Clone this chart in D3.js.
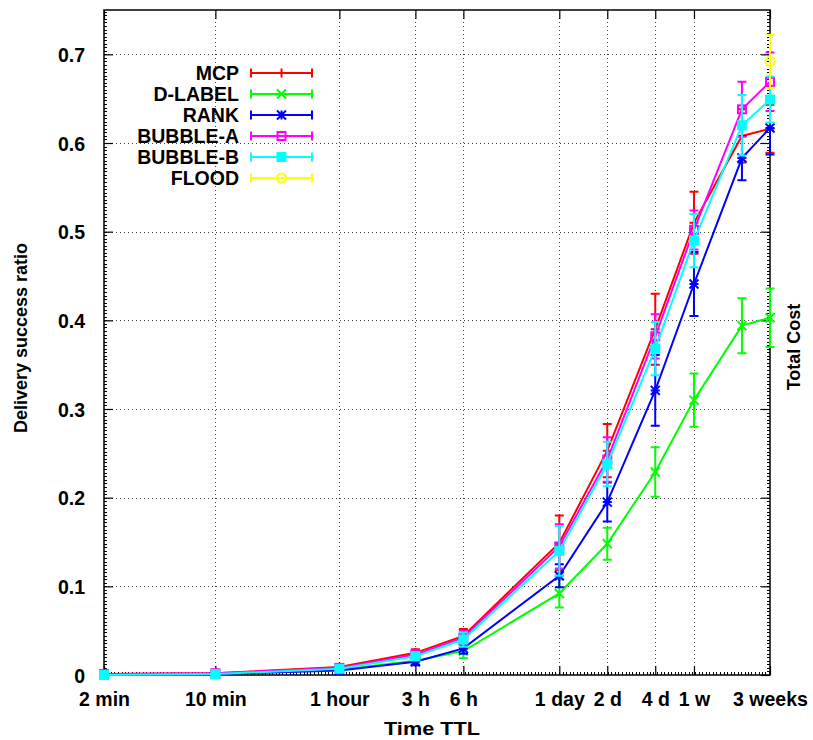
<!DOCTYPE html>
<html><head><meta charset="utf-8">
<script src="https://cdn.jsdelivr.net/npm/d3@7"></script>
<style>body{margin:0;background:#fff}svg{display:block}text{font-family:"Liberation Sans",Arial,sans-serif;font-weight:bold;fill:#000}</style>
</head><body><svg id="c" width="813" height="740"></svg>
<script>
// TTL in seconds
const ttlSeconds = [120, 600, 3600, 10800, 21600, 86400, 172800, 345600, 604800, 1209600, 1814400];
const tickValues = [120, 600, 3600, 10800, 21600, 86400, 172800, 345600, 604800, 1814400];
const tickLabels = ["2 min", "10 min", "1 hour", "3 h", "6 h", "1 day", "2 d", "4 d", "1 w", "3 weeks"];
const yTicks = [0, 0.1, 0.2, 0.3, 0.4, 0.5, 0.6, 0.7];

const seriesNames = ["MCP", "D-LABEL", "RANK", "BUBBLE-A", "BUBBLE-B", "FLOOD"];
const colors = ["#ff0000", "#00ff00", "#0000ff", "#ff00ff", "#00ffff", "#ffff00"];
const markers = ["plus", "cross", "star", "square", "fsquare", "circle"];

const mcpValues     = [0.001, 0.002, 0.009, 0.025, 0.044, 0.149, 0.253, 0.390, 0.510, 0.608, 0.616];
const mcpErr        = [0.001, 0.001, 0.002, 0.004, 0.008, 0.031, 0.030, 0.040, 0.035, 0.030, 0.027];
const dlabelValues  = [0.000, 0.001, 0.006, 0.016, 0.027, 0.092, 0.148, 0.229, 0.310, 0.394, 0.403];
const dlabelErr     = [0.000, 0.001, 0.002, 0.003, 0.008, 0.016, 0.018, 0.028, 0.030, 0.031, 0.033];
const rankValues    = [0.000, 0.001, 0.005, 0.015, 0.030, 0.112, 0.195, 0.321, 0.441, 0.583, 0.617];
const rankErr       = [0.000, 0.001, 0.002, 0.004, 0.006, 0.013, 0.022, 0.040, 0.036, 0.025, 0.030];
const bubbleAValues = [0.001, 0.002, 0.008, 0.023, 0.042, 0.145, 0.243, 0.382, 0.502, 0.638, 0.669];
const bubbleAErr    = [0.001, 0.001, 0.002, 0.005, 0.008, 0.025, 0.025, 0.025, 0.022, 0.031, 0.033];
const bubbleBValues = [0.000, 0.001, 0.007, 0.021, 0.040, 0.140, 0.238, 0.368, 0.490, 0.620, 0.649];
const bubbleBErr    = [0.000, 0.001, 0.002, 0.004, 0.008, 0.028, 0.025, 0.030, 0.030, 0.034, 0.026];
const floodValues   = [null, null, null, null, null, null, null, null, null, null, 0.692];
const floodErr      = [null, null, null, null, null, null, null, null, null, null, 0.030];

const allValues = [mcpValues, dlabelValues, rankValues, bubbleAValues, bubbleBValues, floodValues];
const allErr = [mcpErr, dlabelErr, rankErr, bubbleAErr, bubbleBErr, floodErr];

const L = 104, R = 770, T = 10, B = 675;
const svg = d3.select("#c");
const x = d3.scaleLog().domain([120, 1814400]).range([L, R]);
const y = d3.scaleLinear().domain([0, 0.75]).range([B, T]);

// grid
const grid = svg.append("g").attr("stroke", "#444").attr("stroke-width", 1).attr("stroke-dasharray", "1,3");
grid.selectAll("line.gx").data(tickValues.slice(1, -1)).join("line")
  .attr("x1", d => Math.round(x(d)) + 0.5).attr("x2", d => Math.round(x(d)) + 0.5).attr("y1", T).attr("y2", B);
grid.selectAll("line.gy").data(yTicks.slice(1)).join("line")
  .attr("y1", d => Math.round(y(d)) + 0.5).attr("y2", d => Math.round(y(d)) + 0.5).attr("x1", L).attr("x2", R);

// minor ticks
const minor = svg.append("g").attr("stroke", "#000").attr("stroke-width", 1);
const yMinor = d3.range(0, 0.75, 0.004);
minor.selectAll("line.ml").data(yMinor).join("line")
  .attr("x1", L).attr("x2", L + 3).attr("y1", d => Math.round(y(d)) + 0.5).attr("y2", d => Math.round(y(d)) + 0.5);
minor.selectAll("line.mr").data(yMinor).join("line")
  .attr("x1", R - 3).attr("x2", R).attr("y1", d => Math.round(y(d)) + 0.5).attr("y2", d => Math.round(y(d)) + 0.5);
const xMinor = d3.range(L, R, 3.5).map(p => x.invert(p));
minor.selectAll("line.mb").data(xMinor).join("line")
  .attr("x1", d => Math.round(x(d)) + 0.5).attr("x2", d => Math.round(x(d)) + 0.5).attr("y1", B - 3).attr("y2", B);

// axes
const xAxis = d3.axisBottom(x).tickValues(tickValues).tickFormat((d, i) => tickLabels[i]).tickSizeInner(-9).tickSizeOuter(0).tickPadding(17);
const gx = svg.append("g").attr("transform", `translate(0,${B})`).call(xAxis);
const xTop = d3.axisTop(x).tickValues(tickValues).tickFormat("").tickSizeInner(-9).tickSizeOuter(0);
const gxt = svg.append("g").attr("transform", `translate(0,${T})`).call(xTop);
const yAxis = d3.axisLeft(y).tickValues(yTicks).tickFormat(d => d === 0 ? "0" : d3.format(".1f")(d)).tickSizeInner(-9).tickSizeOuter(0).tickPadding(19);
const gy = svg.append("g").attr("transform", `translate(${L},0)`).call(yAxis);
const yRight = d3.axisRight(y).tickValues(yTicks).tickFormat("").tickSizeInner(-9).tickSizeOuter(0);
const gyr = svg.append("g").attr("transform", `translate(${R},0)`).call(yRight);
[gx, gxt, gy, gyr].forEach(g => {
  g.select(".domain").remove();
  g.selectAll("line").attr("stroke", "#000").attr("stroke-width", 1.2);
  g.selectAll("text").style("font-size", "19.5px").style("font-family", '"Liberation Sans",Arial,sans-serif').style("font-weight", "bold").attr("fill", "#000");
});
gy.selectAll("text").attr("dy", "0.36em");
gx.selectAll("text").attr("dy", "0.71em");

svg.append("rect").attr("x", L).attr("y", T).attr("width", R - L).attr("height", B - T)
  .attr("fill", "none").attr("stroke", "#000").attr("stroke-width", 1.5);

// labels
svg.append("text").attr("x", 432).attr("y", 735).attr("text-anchor", "middle").style("font-size", "18px")
  .attr("textLength", 96).attr("lengthAdjust", "spacingAndGlyphs").text("Time TTL");
svg.append("text").attr("transform", "translate(27,338) rotate(-90)").attr("text-anchor", "middle").style("font-size", "18px").text("Delivery success ratio");
svg.append("text").attr("transform", "translate(800,347) rotate(-90)").attr("text-anchor", "middle").style("font-size", "18px").text("Total Cost");

function drawMarker(g, type, cx, cy, color) {
  const s = 4.5;
  if (type === "plus") {
    g.append("path").attr("d", `M${cx - s},${cy}H${cx + s}M${cx},${cy - s}V${cy + s}`).attr("stroke", color).attr("stroke-width", 2).attr("fill", "none");
  } else if (type === "cross") {
    g.append("path").attr("d", `M${cx - s},${cy - s}L${cx + s},${cy + s}M${cx - s},${cy + s}L${cx + s},${cy - s}`).attr("stroke", color).attr("stroke-width", 2).attr("fill", "none");
  } else if (type === "star") {
    g.append("path").attr("d", `M${cx - s},${cy - s}L${cx + s},${cy + s}M${cx - s},${cy + s}L${cx + s},${cy - s}M${cx - s},${cy}H${cx + s}M${cx},${cy - s}V${cy + s}`).attr("stroke", color).attr("stroke-width", 2).attr("fill", "none");
  } else if (type === "square") {
    g.append("rect").attr("x", cx - 4).attr("y", cy - 4).attr("width", 8).attr("height", 8).attr("stroke", color).attr("stroke-width", 2).attr("fill", "none");
  } else if (type === "fsquare") {
    g.append("rect").attr("x", cx - 5).attr("y", cy - 5).attr("width", 10).attr("height", 10).attr("fill", color);
  } else if (type === "circle") {
    g.append("circle").attr("cx", cx).attr("cy", cy).attr("r", 4.5).attr("stroke", color).attr("stroke-width", 2).attr("fill", "none");
  }
}

// series
const line = d3.line().defined(d => d.v !== null).x(d => x(d.t)).y(d => y(d.v));
allValues.forEach((vals, si) => {
  const color = colors[si];
  const g = svg.append("g");
  const pts = vals.map((v, i) => ({ t: ttlSeconds[i], v, e: allErr[si][i] }));
  const valid = pts.filter(d => d.v !== null);
  g.append("path").datum(pts).attr("d", line).attr("fill", "none").attr("stroke", color).attr("stroke-width", 2);
  valid.forEach(d => {
    const cx = x(d.t), y1 = y(d.v - d.e), y2 = y(d.v + d.e), w = 4.5;
    g.append("path").attr("d", `M${cx},${y1}V${y2}M${cx - w},${y1}H${cx + w}M${cx - w},${y2}H${cx + w}`)
      .attr("stroke", color).attr("stroke-width", 2).attr("fill", "none");
    drawMarker(g, markers[si], cx, y(d.v), color);
  });
});

// legend
seriesNames.forEach((name, i) => {
  const cy = 73 + 21 * i;
  const g = svg.append("g");
  g.append("text").attr("x", 239).attr("y", cy + 7).attr("text-anchor", "end").style("font-size", "19.5px").text(name);
  const c = colors[i];
  g.append("path").attr("d", `M251,${cy}H312M251,${cy - 4.5}V${cy + 4.5}M312,${cy - 4.5}V${cy + 4.5}`)
    .attr("stroke", c).attr("stroke-width", 2).attr("fill", "none");
  drawMarker(g, markers[i], 281.5, cy, c);
});
</script></body></html>
